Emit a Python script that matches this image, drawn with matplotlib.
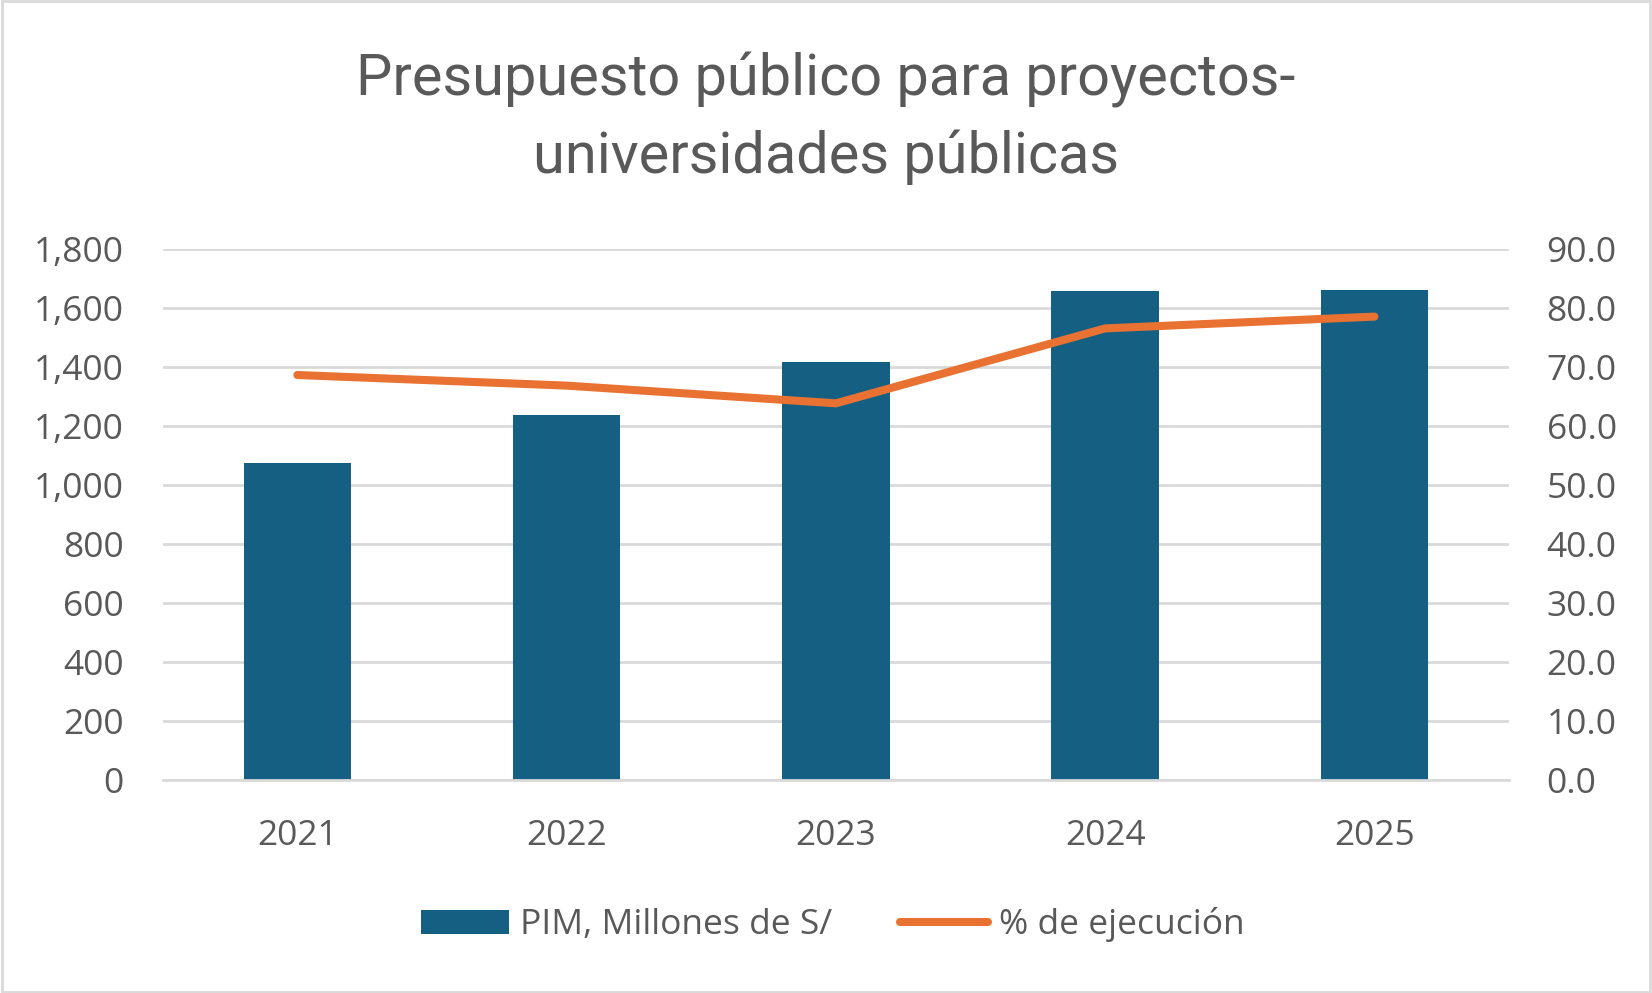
import matplotlib.pyplot as plt
from matplotlib.patches import Rectangle

# Datos del gráfico
years = ["2021", "2022", "2023", "2024", "2025"]
pim_millones = [1075, 1238, 1418, 1659, 1663]
pct_ejecucion = [68.7, 66.9, 63.9, 76.6, 78.6]
left_ticks = [0, 200, 400, 600, 800, 1000, 1200, 1400, 1600, 1800]
right_ticks = [0, 10, 20, 30, 40, 50, 60, 70, 80, 90]

BLUE = "#156082"
ORANGE = "#E97132"
TEXT = "#595959"
GRID = "#D9D9D9"

plt.rcParams['font.family'] = ['Open Sans', 'DejaVu Sans']

fig = plt.figure(figsize=(16.52, 9.93), dpi=100)
ax = fig.add_axes([0.0985, 0.2142, 0.815, 0.5347])
ax2 = ax.twinx()

x = list(range(len(years)))
bars = ax.bar(x, pim_millones, width=0.4, color=BLUE, zorder=2, label="PIM, Millones de S/")
line, = ax2.plot(x, pct_ejecucion, color=ORANGE, lw=5.8, solid_capstyle='round',
                 solid_joinstyle='round', zorder=3, label="% de ejecución")

ax.set_xlim(-0.5, 4.5)
ax.set_ylim(0, 1800)
ax2.set_ylim(0, 90)
ax.set_yticks(left_ticks)
ax.set_yticklabels([f"{v:,}" for v in left_ticks])
ax2.set_yticks(right_ticks)
ax2.set_yticklabels([f"{v:.1f}" for v in right_ticks])
ax.set_xticks(x)
ax.set_xticklabels(years)

ax.yaxis.grid(True, color=GRID, lw=2, zorder=0)
ax.set_axisbelow(True)
for a in (ax, ax2):
    for s in a.spines.values():
        s.set_visible(False)
    a.tick_params(length=0, labelsize=25.5, labelcolor=TEXT)
ax.tick_params(axis='y', pad=28)
ax2.tick_params(axis='y', pad=27)
ax.tick_params(axis='x', pad=28)
ax.spines['bottom'].set_visible(True)
ax.spines['bottom'].set_color(GRID)
ax.spines['bottom'].set_linewidth(2)

ax.set_zorder(ax2.get_zorder() - 1)
ax.patch.set_visible(False)

title_font = ['Roboto', 'DejaVu Sans']
fig.text(0.5, 1 - 95 / 993, "Presupuesto público para proyectos-", ha='center',
         va='baseline', fontsize=41.5, color=TEXT, family=title_font)
fig.text(0.5, 1 - 173 / 993, "universidades públicas", ha='center',
         va='baseline', fontsize=41.5, color=TEXT, family=title_font)

fig.legend([bars, line], ["PIM, Millones de S/", "% de ejecución"], loc='center',
           bbox_to_anchor=(0.504, 0.0685), ncol=2, frameon=False, fontsize=25.5,
           handlelength=2.5, handletextpad=0.3, columnspacing=1.9,
           labelcolor=TEXT)

fig.patches.append(Rectangle((0.001, 0.001), 0.998, 0.998, transform=fig.transFigure,
                             fill=False, edgecolor=GRID, lw=2))

fig.savefig("out.png", dpi=100)
